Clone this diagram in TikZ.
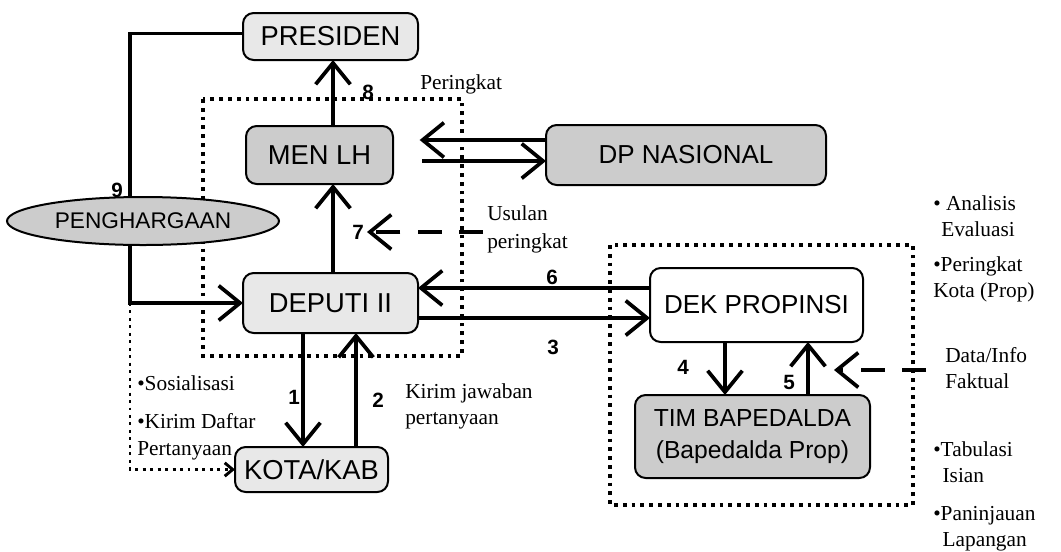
\documentclass[tikz,border=0pt]{standalone}
\usepackage{fontspec}
\setmainfont{Liberation Serif}
\newfontfamily\boxfont{Liberation Sans}
\usetikzlibrary{arrows.meta,shapes.geometric,calc}
\begin{document}
\begin{tikzpicture}[x=0.75pt,y=-0.75pt,
  box/.style={draw, line width=1.5pt, rounded corners=8pt, inner sep=0pt, outer sep=0pt,
    font=\boxfont\fontsize{20.5}{23}\selectfont, align=center},
  light/.style={box, fill=gray!18},
  dark/.style={box, fill=gray!40},
  arr/.style={line width=2.8pt, -{Straight Barb[length=16pt,width=26pt]}},
  darr/.style={arr, dash pattern=on 18pt off 13pt},
  plainline/.style={line width=2.8pt},
  dotbox/.style={line width=2.8pt, dash pattern=on 2.8pt off 3.8pt},
  dotline/.style={line width=2.2pt, dash pattern=on 2.2pt off 3.4pt, -{Straight Barb[length=6pt,width=10pt]}},
  num/.style={font=\boxfont\bfseries\fontsize{15.5}{15.5}\selectfont},
  lab/.style={font=\fontsize{16}{20}\selectfont, align=left, inner sep=0pt},
]
\useasboundingbox (0,0) rectangle (1061,551);
\fill[white] (0,0) rectangle (1061,551);

% dotted group boxes
\draw[dotbox] (203,99) rectangle (462,356);
\draw[dotbox] (610,245) rectangle (913,505);

% nodes
\node[light, minimum width=131.25pt, minimum height=35.25pt] (pres) at (330.5,36.5) {PRESIDEN};
\node[dark, minimum width=110.25pt, minimum height=43.5pt] (men) at (319.5,155) {MEN LH};
\node[dark, minimum width=210pt, minimum height=45pt, font=\boxfont\fontsize{19.5}{23}\selectfont] (dp) at (686,155) {DP NASIONAL};
\node[ellipse, draw, line width=1.5pt, fill=gray!40, minimum width=204pt, minimum height=36pt,
  inner sep=0pt, outer sep=0pt, font=\boxfont\fontsize{17}{20}\selectfont] (pengh) at (143,221) {PENGHARGAAN};
\node[light, minimum width=131.25pt, minimum height=45pt] (dep) at (330.5,303) {DEPUTI II};
\node[light, minimum width=114.75pt, minimum height=33.75pt] (kota) at (311.5,469.5) {KOTA/KAB};
\node[box, fill=white, minimum width=159.75pt, minimum height=55.5pt, font=\boxfont\fontsize{19.5}{23}\selectfont] (dek) at (756.5,305) {DEK PROPINSI};
\node[dark, minimum width=176.25pt, minimum height=62.25pt, font=\boxfont\fontsize{18.5}{24}\selectfont] (tim) at (752.5,436.5) {TIM BAPEDALDA\\(Bapedalda Prop)};

% helper coordinates
\coordinate (c9) at ($(pengh.north)+(-13,0)$);
\coordinate (cb) at ($(pengh.south)+(-13,0)$);
\coordinate (corner) at (cb |- dep.west);
\coordinate (x8) at (333,0);
\coordinate (x1) at (303,0);
\coordinate (x2) at (356,0);
\coordinate (x4) at (725,0);
\coordinate (x5) at (808,0);
\coordinate (yA) at (0,140);
\coordinate (yB) at (0,161);
\coordinate (yC) at (0,288);
\coordinate (yD) at (0,318);
\coordinate (u1) at (483,232);
\coordinate (u2) at (367,232);
\coordinate (d1) at (926,370);
\coordinate (d2) at (834,370);

% connectors
\draw[plainline] (c9) |- ($(pres.west)+(0,-3)$);
\draw[arr] (cb) |- (dep.west);
\draw[dotline] (corner) |- (kota.west);
\draw[arr] (x8 |- men.north) -- (x8 |- pres.south);
\draw[arr] (x8 |- dep.north) -- (x8 |- men.south);
\draw[arr, shorten >=20pt] (dp.west |- yA) -- (men.east |- yA);
\draw[arr, shorten <=22pt] (men.east |- yB) -- (dp.west |- yB);
\draw[arr] (dek.west |- yC) -- (dep.east |- yC);
\draw[arr] (dep.east |- yD) -- (dek.west |- yD);
\draw[arr] (x1 |- dep.south) -- (x1 |- kota.north);
\draw[arr] (x2 |- kota.north) -- (x2 |- dep.south);
\draw[arr] (x4 |- dek.south) -- (x4 |- tim.north);
\draw[arr] (x5 |- tim.north) -- (x5 |- dek.south);
\draw[darr] (u1) -- (u2);
\draw[darr] (d1) -- (d2);

% numbers
\node[num] at (117,190) {9};
\node[num] at (368,92) {8};
\node[num] at (358,232) {7};
\node[num] at (552,277) {6};
\node[num] at (553,347) {3};
\node[num] at (294,397) {1};
\node[num] at (378,400) {2};
\node[num] at (683,367) {4};
\node[num] at (789,382) {5};

% labels
\node[lab, anchor=west] at (420,84) {Peringkat};
\node[lab, anchor=west, font=\fontsize{16}{21.5}\selectfont] at (487,229.5) {Usulan\\peringkat};
\node[lab, anchor=west] at (137,383) {\textbullet Sosialisasi};
\node[lab, anchor=west] at (137,436.5) {\textbullet Kirim Daftar\\Pertanyaan};
\node[lab, anchor=west] at (405,406.5) {Kirim jawaban\\pertanyaan};
\node[lab, anchor=west, font=\fontsize{16}{19.5}\selectfont] at (933,216.5) {\textbullet\ Analisis\\\hspace{6pt}Evaluasi};
\node[lab, anchor=west, font=\fontsize{16}{19.5}\selectfont] at (933,279) {\textbullet Peringkat\\Kota (Prop)};
\node[lab, anchor=west, font=\fontsize{16}{19.5}\selectfont] at (945,368) {Data/Info\\Faktual};
\node[lab, anchor=west, font=\fontsize{16}{19.5}\selectfont] at (933,462.5) {\textbullet Tabulasi\\\hspace{7pt}Isian};
\node[lab, anchor=west, font=\fontsize{16}{19.5}\selectfont] at (933,528.5) {\textbullet Paninjauan\\\hspace{7pt}Lapangan};
\end{tikzpicture}
\end{document}
